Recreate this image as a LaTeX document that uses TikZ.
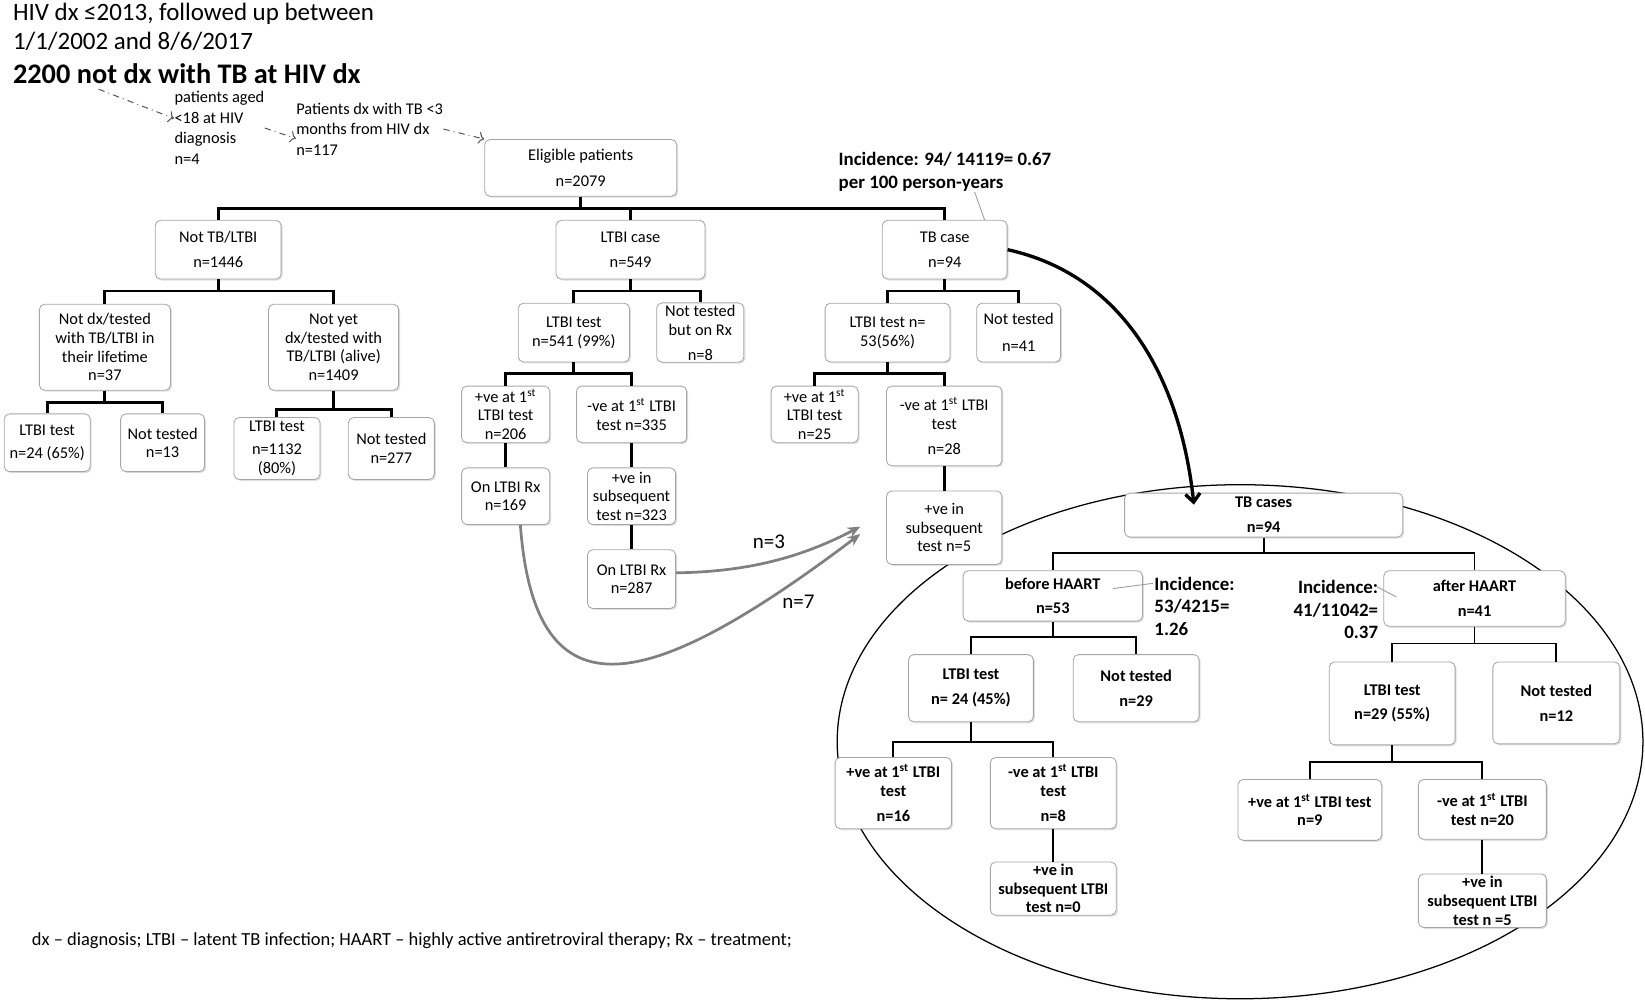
\documentclass[tikz,border=0pt]{standalone}
\usepackage{fontspec}
\setmainfont{Carlito}
\usetikzlibrary{shadows,arrows.meta}
\newcommand{\boxfont}{\fontsize{7.8}{8.9}\selectfont}
\newcommand{\incfont}{\fontsize{9}{10.8}\selectfont\bfseries}

\begin{document}
\begin{tikzpicture}[x=0.5pt, y=-0.5pt,
  box/.style={draw=gray!70, line width=0.4pt, rounded corners=2.5pt, fill=white, align=center, inner sep=1pt, font=\boxfont, drop shadow={shadow xshift=0.7pt, shadow yshift=-0.7pt, opacity=0.25}},
  bbox/.style={box, font=\boxfont\bfseries},
  wh/.style 2 args={minimum width=#1*0.5pt, minimum height=#2*0.5pt},
  tree/.style={line width=1.4pt},
  ttree/.style={line width=0.9pt},
  excl/.style={gray!70!black, dashdotted, ->, line width=0.5pt},
  flow/.style={gray, line width=1.3pt, -{Stealth[length=6pt, width=5pt]}},
  lead/.style={gray!80, line width=0.4pt},
  txt/.style={inner sep=0pt, align=left}]
         \useasboundingbox (0,0) rectangle (1568,954);
         \draw[line width=0.6pt] (1182,707) ellipse [x radius=192pt, y radius=122.5pt];

         \node[txt, anchor=west, font=\fontsize{11.9}{14}\selectfont] (title1) at (12,13) {HIV dx ≤2013, followed up between};
         \node[txt, anchor=west, font=\fontsize{11.9}{14}\selectfont] (title2) at (12,39) {1/1/2002 and 8/6/2017};
         \node[txt, anchor=west, font=\fontsize{13.5}{16}\selectfont\bfseries] (title3) at (12,70) {2200 not dx with TB at HIV dx};
         \node[txt, anchor=west, font=\fontsize{7.8}{9.8}\selectfont] (excl1) at (166,122) {patients aged\\<18 at HIV\\diagnosis\\n=4};
         \node[txt, anchor=west, font=\fontsize{7.8}{9.8}\selectfont] (excl2) at (282,123) {Patients dx with TB <3\\months from HIV dx\\n=117};

         \node[box, wh={183}{54}] (elig) at (553.5,160) {Eligible patients\\[3.5pt]n=2079};
         \node[box, wh={120}{56}] (nottb) at (208,238) {Not TB/LTBI\\[3pt]n=1446};
         \node[box, wh={142}{56}] (ltbic) at (601,238) {LTBI case\\[3pt]n=549};
         \node[box, wh={119}{56}] (tbc) at (900.5,238) {TB case\\[3pt]n=94};
         \node[box, wh={125}{82}] (notdx) at (100,331) {Not dx/tested\\with TB/LTBI in\\their lifetime\\n=37};
         \node[box, wh={124}{82}] (notyet) at (318,331) {Not yet\\dx/tested with\\TB/LTBI (alive)\\n=1409};
         \node[box, wh={82}{55}] (ltbiA) at (45,422) {LTBI test\\[2pt]n=24 (65\%)};
         \node[box, wh={80}{55}] (ntA) at (155,422) {Not tested\\n=13};
         \node[box, wh={82}{59}] (ltbiB) at (264,427.5) {LTBI test\\[2pt]n=1132\\(80\%)};
         \node[box, wh={82}{59}] (ntB) at (373,427.5) {Not tested\\n=277};
         \node[box, wh={106}{56}] (ltbiC) at (547,317) {LTBI test\\n=541 (99\%)};
         \node[box, wh={83}{56}] (ntC) at (667.5,317) {Not tested\\but on Rx\\[3pt]n=8};
         \node[box, wh={84}{54}] (posC) at (482,395) {+ve at 1\textsuperscript{st}\\LTBI test\\n=206};
         \node[box, wh={105}{54}] (negC) at (602,395) {-ve at 1\textsuperscript{st} LTBI\\test n=335};
         \node[box, wh={84}{54}] (rxC) at (482,473) {On LTBI Rx\\n=169};
         \node[box, wh={84}{54}] (subC) at (602,473) {+ve in\\subsequent\\test n=323};
         \node[box, wh={84}{56}] (rxD) at (602,552) {On LTBI Rx\\n=287};
         \node[box, wh={119}{56}] (ltbiD) at (846,317) {LTBI test n=\\53(56\%)};
         \node[box, wh={80}{56}] (ntD) at (971,317) {Not tested\\[4pt]n=41};
         \node[box, wh={83}{54}] (posD) at (776.5,395) {+ve at 1\textsuperscript{st}\\LTBI test\\n=25};
         \node[box, wh={110}{76}] (negD) at (900,406) {-ve at 1\textsuperscript{st} LTBI\\test\\[3pt]n=28};
         \node[box, wh={110}{70}] (subD) at (900,503) {+ve in\\subsequent\\test n=5};

         \node[bbox, wh={265}{42}] (tbcases) at (1204.5,491) {TB cases\\[3pt]n=94};
         \node[bbox, wh={171}{48}] (before) at (1003.5,568) {before HAART\\[2.5pt]n=53};
         \node[bbox, wh={173}{53}] (after) at (1405.5,570.5) {after HAART\\[3pt]n=41};
         \node[bbox, wh={119}{64}] (ltbiE) at (925.5,656) {LTBI test\\[3pt]n= 24 (45\%)};
         \node[bbox, wh={120}{64}] (ntE) at (1083,656) {Not tested\\[3pt]n=29};
         \node[bbox, wh={120}{79}] (ltbiF) at (1327,670.5) {LTBI test\\[3pt]n=29 (55\%)};
         \node[bbox, wh={121}{78}] (ntF) at (1483.5,670) {Not tested\\[3pt]n=12};
         \node[bbox, wh={111}{68}] (posE) at (851.5,756) {+ve at 1\textsuperscript{st} LTBI\\test\\[3pt]n=16};
         \node[bbox, wh={120}{68}] (negE) at (1004,756) {-ve at 1\textsuperscript{st} LTBI\\test\\[3pt]n=8};
         \node[bbox, wh={120}{50}] (subE) at (1004,847) {+ve in\\subsequent LTBI\\test n=0};
         \node[bbox, wh={137}{58}] (posF) at (1248.5,772) {+ve at 1\textsuperscript{st} LTBI test\\n=9};
         \node[bbox, wh={122}{57}] (negF) at (1413,771.5) {-ve at 1\textsuperscript{st} LTBI\\test n=20};
         \node[bbox, wh={122}{51}] (subF) at (1413,858.5) {+ve in\\subsequent LTBI\\test n =5};

         \node[txt, anchor=west, font=\incfont] (inc1) at (799,164) {Incidence: 94/ 14119= 0.67\\per 100 person-years};
         \node[txt, anchor=west, font=\incfont] (inc2) at (1100,578) {Incidence:\\53/4215=\\1.26};
         \node[txt, anchor=east, align=right, font=\incfont] (inc3) at (1314,581) {Incidence:\\41/11042=\\0.37};
         \node[txt, anchor=west, font=\fontsize{8.8}{10}\selectfont] (note) at (30,897) {dx – diagnosis; LTBI – latent TB infection; HAART – highly active antiretroviral therapy; Rx – treatment;};
         \node[font=\fontsize{10}{12}\selectfont] (n3) at (733,516) {n=3};
         \node[font=\fontsize{10}{12}\selectfont] (n7) at (761,574) {n=7};

         \coordinate (a1) at (94,85);
         \draw[excl] (a1) -- ([yshift=4.5pt]excl1.west);
         \draw[excl] (excl1.east) -- ([yshift=-4.5pt]excl2.west);
         \draw[excl] (excl2.east) -- (elig.north west);

         \draw[tree] (elig.south) -- ++(0,11) coordinate (j1) -| (nottb.north);
         \draw[tree] (j1) -| (ltbic.north);
         \draw[tree] (j1) -| (tbc.north);
         \draw[tree] (nottb.south) -- ++(0,11) coordinate (j2) -| (notdx.north);
         \draw[tree] (j2) -| (notyet.north);
         \draw[tree] (notdx.south) -- ++(0,11) coordinate (j3) -| (ltbiA.north);
         \draw[tree] (j3) -| (ntA.north);
         \draw[tree] (notyet.south) -- ++(0,18) coordinate (j4) -| (ltbiB.north);
         \draw[tree] (j4) -| (ntB.north);
         \draw[tree] (ltbic.south) -- ++(0,11) coordinate (j5) -| (ltbiC.north);
         \draw[tree] (j5) -| (ntC.north);
         \draw[tree] (ltbiC.south) -- ++(0,11) coordinate (j6) -| (posC.north);
         \draw[tree] (j6) -| (negC.north);
         \draw[tree] (posC) -- (rxC);
         \draw[tree] (negC) -- (subC);
         \draw[tree] (subC) -- (rxD);
         \draw[tree] (tbc.south) -- ++(0,11) coordinate (j7) -| (ltbiD.north);
         \draw[tree] (j7) -| (ntD.north);
         \draw[tree] (ltbiD.south) -- ++(0,11) coordinate (j8) -| (posD.north);
         \draw[tree] (j8) -| (negD.north);
         \draw[tree] (negD) -- (subD);

         \draw[ttree] (tbcases.south) -- ++(0,15) coordinate (k1) -| (before.north);
         \draw[ttree] (k1) -| (after.north);
         \draw[ttree] (before.south) -- ++(0,15) coordinate (k2) -| (ltbiE.north);
         \draw[ttree] (k2) -| (ntE.north);
         \draw[ttree] (after.south) -- ++(0,16) coordinate (k3) -| (ltbiF.north);
         \draw[ttree] (k3) -| (ntF.north);
         \draw[ttree] (ltbiE.south) -- ++(0,19) coordinate (k4) -| (posE.north);
         \draw[ttree] (k4) -| (negE.north);
         \draw[ttree] (ltbiF.south) -- ++(0,16) coordinate (k5) -| (posF.north);
         \draw[ttree] (k5) -| (negF.north);
         \draw[ttree] (negE) -- (subE);
         \draw[ttree] (negF) -- (subF);

         \coordinate (tip1) at (820,502);
         \coordinate (tip2) at (820,509);
         \draw[flow] ([yshift=3pt]rxD.east) .. controls (720,545) and (770,528) .. (tip1);
         \draw[flow] ([xshift=7pt]rxC.south) .. controls (510,690) and (620,660) .. (tip2);
         \coordinate (tbin) at (1138,481);
         \draw[line width=1.6pt, -{Straight Barb[length=4pt, width=7pt]}] (tbc.east) .. controls (1070,262) and (1125,360) .. (tbin);

         \coordinate (l1a) at (929,183);
         \draw[lead] (l1a) -- ([xshift=19pt]tbc.north);
         \coordinate (l2a) at (1061,561);
         \coordinate (l2b) at (1099,556);
         \draw[lead] (l2a) -- (l2b);
         \coordinate (l3a) at (1312,559);
         \coordinate (l3b) at (1331,569);
         \draw[lead] (l3a) -- (l3b);
 \end{tikzpicture}
\end{document}
